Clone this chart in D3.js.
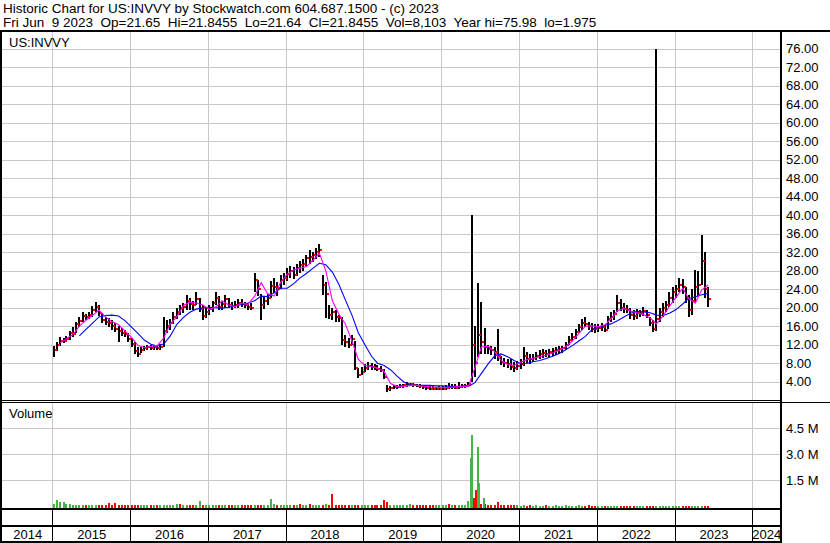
<!DOCTYPE html>
<html><head><meta charset="utf-8">
<script src="https://cdn.jsdelivr.net/npm/d3@7/dist/d3.min.js"></script>
<style>
html,body{margin:0;padding:0;background:#fff;}
svg{display:block;}
text{font-family:"Liberation Sans",Arial,sans-serif;font-size:13px;fill:#000;}
text.hdr{font-size:13.5px;}
</style></head><body>
<svg id="chart" width="830" height="543"></svg>
<script>
// ---------------- DATA ----------------
const headerLine1 = "Historic Chart for US:INVVY by Stockwatch.com 604.687.1500 - (c) 2023";
const headerLine2 = "Fri Jun  9 2023  Op=21.65  Hi=21.8455  Lo=21.64  Cl=21.8455  Vol=8,103  Year hi=75.98  lo=1.975";
const symbolLabel = "US:INVVY";
const volumeLabel = "Volume";
const yearLabels = ["2014","2015","2016","2017","2018","2019","2020","2021","2022","2023","2024"];
const priceTicks = [4,8,12,16,20,24,28,32,36,40,44,48,52,56,60,64,68,72,76];
const volumeTicks = [1.5e6, 3.0e6, 4.5e6];
const volumeTickLabels = ["1.5 M","3.0 M","4.5 M"];

// semi-monthly bars, Jan 2015 .. first half Jun 2023
const high = [
 11.8,12.5,13.6,13.4,13.8,15.0,15.8,17.0,17.9,19.1,18.6,19.0,20.4,21.3,20.5,18.8,18.0,17.8,17.3,16.6,16.0,15.6,15.2,14.6,
 13.5,12.5,11.5,11.4,11.8,11.9,12.0,12.0,11.8,12.2,18.0,17.3,17.6,19.0,20.0,20.6,21.0,22.7,22.0,21.5,23.4,22.0,20.5,20.2,
 20.5,21.5,23.4,22.5,21.5,22.7,22.0,21.2,21.5,21.8,21.8,21.3,21.0,21.0,27.4,26.0,23.0,22.5,23.0,25.8,26.5,25.5,27.0,27.4,
 28.5,29.0,28.8,29.5,30.0,30.5,31.5,32.5,32.0,33.0,33.8,27.0,25.5,20.5,20.0,19.5,18.5,18.0,14.0,13.5,14.0,12.9,7.0,7.2,
 7.8,8.3,8.0,7.8,7.6,7.5,6.8,3.2,3.0,3.2,3.3,3.4,3.6,3.9,3.8,3.7,3.5,3.4,3.2,3.1,3.0,3.0,2.9,3.0,
 3.1,3.2,3.7,3.5,3.4,4.0,3.6,3.5,4.0,40.0,16.0,25.3,21.3,15.6,12.0,11.8,11.5,15.3,9.6,9.2,9.0,8.8,8.2,8.4,
 9.0,11.5,10.4,10.0,10.0,10.5,10.8,11.1,10.8,11.0,11.2,11.5,11.8,11.8,12.5,13.8,14.5,15.5,16.5,17.5,18.0,17.0,16.8,16.5,
 16.5,16.7,16.2,18.2,19.1,19.5,22.7,21.8,21.0,20.5,20.0,19.5,19.8,19.5,20.2,19.6,18.0,17.3,76.0,20.0,21.0,21.5,23.5,24.5,
 25.0,26.4,26.2,24.5,22.7,24.0,28.2,28.0,35.7,32.0,24.5
];
const low = [
 9.4,10.6,11.8,12.3,12.5,13.0,13.6,14.6,15.8,17.0,17.3,17.6,18.0,19.0,18.2,16.6,16.3,15.9,15.2,14.8,12.6,13.9,13.7,12.6,
 11.5,10.0,9.3,10.2,10.6,10.8,10.9,10.8,10.8,10.9,11.5,14.5,15.2,16.5,17.5,18.5,18.8,19.5,19.6,19.6,20.6,19.0,17.3,17.8,
 18.5,19.0,20.5,19.5,19.6,20.0,20.0,19.6,19.9,20.0,20.2,19.9,19.6,19.5,23.5,22.5,17.3,19.8,20.5,22.2,23.2,22.5,24.0,25.0,
 25.8,26.5,26.2,26.8,27.5,28.0,29.0,29.5,29.8,30.5,31.0,22.8,17.7,17.5,17.3,17.0,17.0,11.9,11.5,11.2,12.0,6.5,4.7,5.5,
 6.0,6.5,6.6,6.5,6.3,6.1,4.5,1.7,2.0,2.4,2.5,2.6,2.7,2.9,3.0,2.9,2.8,2.6,2.4,2.3,2.2,2.1,2.1,2.2,
 2.2,2.3,2.4,2.5,2.4,2.5,2.7,2.7,2.8,4.0,5.0,9.3,10.0,10.0,10.0,9.8,9.0,8.5,7.6,7.2,7.0,6.6,6.2,6.5,
 6.8,7.5,8.0,7.9,8.2,8.6,9.0,9.2,9.4,9.4,9.6,9.8,10.0,10.2,10.8,12.0,12.8,13.2,14.5,15.2,15.8,15.2,14.8,14.6,
 14.8,14.9,14.8,15.5,17.0,17.3,19.0,19.2,18.9,18.8,17.5,17.3,17.6,18.0,18.2,17.8,16.0,14.8,15.0,17.0,18.0,19.0,20.2,21.0,
 22.0,23.5,23.0,21.0,18.0,18.5,21.0,22.5,25.0,22.0,20.2
];
const close = [
 10.8,12.0,12.8,12.7,13.2,14.6,14.4,16.5,17.2,18.2,18.0,18.4,19.5,20.2,18.8,17.4,17.0,16.8,16.0,15.3,15.0,14.6,14.3,13.2,
 12.2,10.6,10.0,10.9,11.2,11.4,11.3,11.6,11.3,11.6,15.0,16.0,16.8,18.0,19.0,20.0,20.2,21.5,20.8,20.5,21.8,19.8,18.3,19.0,
 19.8,21.0,22.0,20.2,20.8,21.8,20.5,20.3,20.6,21.0,20.9,20.5,20.2,20.0,26.0,24.0,20.5,21.5,22.0,24.8,24.5,24.2,26.0,26.5,
 27.2,28.0,27.0,28.5,29.2,29.5,30.8,31.0,31.5,32.0,32.5,25.0,23.0,18.5,19.0,18.0,17.8,13.0,12.5,12.0,13.2,7.0,5.5,6.2,
 7.0,7.5,7.2,7.0,6.8,6.6,5.0,2.4,2.6,2.8,2.9,3.0,3.2,3.5,3.4,3.3,3.1,3.0,2.8,2.6,2.5,2.4,2.4,2.5,
 2.5,2.6,2.8,2.9,2.7,2.9,3.0,3.1,3.4,12.0,8.0,14.0,12.5,11.5,11.0,10.8,10.5,9.5,8.3,8.0,7.8,7.2,7.0,7.5,
 7.8,9.5,9.0,8.8,9.2,9.6,10.0,10.2,10.0,10.4,10.6,10.8,11.0,11.2,12.0,13.0,13.6,14.8,15.8,16.6,16.5,16.0,15.5,15.4,
 15.6,15.8,15.2,17.5,18.0,18.6,21.0,20.0,19.8,19.5,18.5,18.2,18.8,18.8,19.2,18.4,16.8,15.5,17.5,19.0,20.0,20.5,22.0,23.5,
 24.0,25.0,24.5,22.0,19.5,21.5,24.5,25.0,30.0,24.0,21.85
];
// volume (thousands of shares) per semi-monthly bar
const volumeK = [
 150,390,230,260,150,120,90,80,70,60,60,70,50,60,60,50,60,190,70,190,60,50,60,50,
 60,50,60,50,60,50,60,50,60,60,70,60,60,70,150,150,60,50,60,50,60,300,60,50,
 50,60,50,60,50,60,50,60,50,60,50,60,50,60,80,60,50,60,60,420,150,60,50,60,
 60,70,60,60,150,60,70,150,60,70,60,60,150,60,720,60,70,60,80,60,70,60,90,60,
 60,50,60,50,60,50,340,220,60,50,60,50,50,60,120,50,50,60,50,50,60,50,50,60,
 50,60,120,60,50,60,60,70,300,300,400,250,150,150,70,60,80,250,60,50,60,50,60,50,
 40,80,40,50,40,50,40,40,50,40,40,50,40,40,50,40,40,40,50,40,40,50,40,40,
 30,30,40,30,40,30,30,40,30,30,40,30,30,30,30,40,30,30,40,30,30,30,40,30,
 30,30,30,40,30,30,40,30,30,30,30
];
// bars whose volume colour differs from the close-to-close direction
const volumeGreenIdx = [3,6,45,68,84,110];
const volumeRedIdx = [39,76,79,86,122];
// individual heavy-volume sessions (2020)
const spikeDates = ["2020-05-16","2020-05-22","2020-05-30","2020-06-10","2020-06-15","2020-06-22","2020-07-16"];
const spikeVolumeK = [2790,4110,480,940,3440,1330,480];
const spikeUp = [true,true,false,false,true,true,true];

// moving averages, monthly samples (null = not yet defined)
const maShort = [
 null,12.4,13.3,14.2,16.0,17.3,18.3,19.5,18.0,17.0,16.3,15.0,
 13.6,11.8,11.4,11.6,11.8,13.5,16.5,18.0,20.5,21.2,21.0,20.6,
 19.6,20.2,21.5,20.6,20.2,21.0,20.7,22.5,25.4,23.0,22.5,25.5,
 27.2,28.2,28.5,28.9,30.2,31.8,28.0,21.5,18.6,16.5,12.8,8.8,
 7.5,7.3,6.9,6.2,3.6,3.0,3.0,3.2,3.2,3.0,2.9,2.8,
 2.7,2.8,2.9,3.0,3.0,7.1,11.5,11.7,10.5,8.6,7.7,7.5,
 8.2,8.8,9.1,9.4,9.7,10.2,10.8,11.6,12.8,14.4,16.0,16.1,
 15.9,16.3,17.6,19.4,19.8,19.3,18.9,18.5,17.8,16.5,18.2,20.3,
 22.3,24.2,22.0,21.0,23.8,24.9
];
const maLong = [
 null,null,null,null,13.9,15.3,16.6,18.0,18.3,18.4,18.2,17.2,
 15.8,14.4,13.0,12.1,11.7,12.2,13.9,16.4,17.9,19.0,19.7,20.0,
 20.1,20.0,19.9,20.1,20.4,20.7,21.0,21.5,22.5,22.4,23.2,24.2,
 24.2,25.2,26.4,27.4,28.5,29.6,29.3,27.7,25.0,21.7,18.4,14.6,
 12.0,9.5,8.0,7.5,6.6,5.2,4.0,3.3,3.2,3.2,3.2,3.1,
 3.1,3.0,3.0,3.0,3.0,3.8,5.8,7.8,9.6,10.0,9.4,8.6,
 7.9,8.0,8.3,8.6,9.0,9.5,10.1,10.9,11.8,12.8,13.8,15.2,
 15.8,16.2,16.5,17.2,18.0,18.8,19.2,19.1,18.9,18.4,18.3,18.8,
 19.6,20.8,22.0,22.3,22.8,23.1
];

// ---------------- CHART ----------------
const svg = d3.select("#chart");
const plotL = 0, plotR = 781;
const priceTop = 32, priceBot = 401;
const volTop = 403, volBot = 509;

function periodDate(p){ return new Date(2015 + Math.floor(p/24), Math.floor((p%24)/2), (p%2) ? 23 : 8); }

const x = d3.scaleTime().domain([new Date(2015,0,1), new Date(2024,0,1)]).range([52.3, 752.3]);
const yP = d3.scaleLinear().domain([0,76]).range([400.2, 48.7]);
const yV = d3.scaleLinear().domain([0,4.5e6]).range([506.3, 428.3]);
const gridColor = "#c8c8c8";
const yearBounds = d3.range(2015, 2025).map(y => new Date(y,0,1));

// gridlines
const grid = svg.append("g").attr("shape-rendering","crispEdges");
grid.selectAll(".hp").data(priceTicks).join("line")
  .attr("x1", plotL).attr("x2", plotR)
  .attr("y1", d => Math.round(yP(d))+0.5).attr("y2", d => Math.round(yP(d))+0.5)
  .attr("stroke", gridColor);
grid.selectAll(".hv").data(volumeTicks).join("line")
  .attr("x1", plotL).attr("x2", plotR)
  .attr("y1", d => Math.round(yV(d))+0.5).attr("y2", d => Math.round(yV(d))+0.5)
  .attr("stroke", gridColor);
grid.selectAll(".vp").data(yearBounds).join("line")
  .attr("x1", d => Math.round(x(d))+0.5).attr("x2", d => Math.round(x(d))+0.5)
  .attr("y1", priceTop).attr("y2", priceBot).attr("stroke", gridColor);
grid.selectAll(".vv").data(yearBounds).join("line")
  .attr("x1", d => Math.round(x(d))+0.5).attr("x2", d => Math.round(x(d))+0.5)
  .attr("y1", volTop).attr("y2", volBot).attr("stroke", gridColor);

// price bars
const bars = d3.range(high.length).map(p => {
  let up = p === 0 ? true : close[p] >= close[p-1];
  if (volumeGreenIdx.includes(p)) up = true;
  if (volumeRedIdx.includes(p)) up = false;
  return {d: periodDate(p), h: high[p], l: low[p], c: close[p], v: volumeK[p]*1000, up};
});
const pb = svg.append("g").attr("shape-rendering","crispEdges");
pb.selectAll("rect.hl").data(bars).join("rect")
  .attr("x", d => Math.round(x(d.d)) - 1).attr("width", 2)
  .attr("y", d => Math.round(yP(d.h))).attr("height", d => Math.max(1, Math.round(yP(d.l)) - Math.round(yP(d.h))))
  .attr("fill", "#000");
pb.selectAll("rect.cl").data(bars).join("rect")
  .attr("x", d => Math.round(x(d.d)) + 1).attr("width", 2)
  .attr("y", d => Math.round(yP(d.c)) - 1).attr("height", 2)
  .attr("fill", "#ff0000");

// moving averages (drawn over the bars)
const maDates = maShort.map((d,k) => periodDate(2*k));
const line = d3.line().defined(d => d[1] != null).x(d => x(d[0])).y(d => yP(d[1]));
svg.append("path").datum(maDates.map((d,k) => [d, maLong[k]]))
  .attr("d", line).attr("fill","none").attr("stroke","#0000ff").attr("stroke-width",1.1);
svg.append("path").datum(maDates.map((d,k) => [d, maShort[k]]))
  .attr("d", line).attr("fill","none").attr("stroke","#ff00ff").attr("stroke-width",1.1);

// volume bars
const vb = svg.append("g").attr("shape-rendering","crispEdges");
vb.selectAll("rect").data(bars).join("rect")
  .attr("x", d => Math.round(x(d.d)) - 1).attr("width", 2)
  .attr("y", d => Math.round(yV(d.v))).attr("height", d => 509 - Math.round(yV(d.v)))
  .attr("fill", d => d.up ? "#44b544" : "#ff0000");
const spikes = spikeDates.map((s,i) => ({d: new Date(s+"T00:00:00"), v: spikeVolumeK[i]*1000, up: spikeUp[i]}));
vb.selectAll("rect.sp").data(spikes).join("rect")
  .attr("x", d => Math.round(x(d.d))).attr("width", 2)
  .attr("y", d => Math.round(yV(d.v))).attr("height", d => 509 - Math.round(yV(d.v)))
  .attr("fill", d => d.up ? "#44b544" : "#ff0000");

// frame
const fr = svg.append("g").attr("shape-rendering","crispEdges");
fr.append("rect").attr("x",0).attr("y",30).attr("width",830).attr("height",2).attr("fill","#000");
fr.append("rect").attr("x",0).attr("y",30).attr("width",2).attr("height",513).attr("fill","#000");
fr.append("rect").attr("x",780).attr("y",30).attr("width",2).attr("height",513).attr("fill","#000");
fr.append("rect").attr("x",0).attr("y",400).attr("width",781).attr("height",1).attr("fill","#000");
fr.append("rect").attr("x",0).attr("y",402).attr("width",781).attr("height",1).attr("fill","#000");
fr.append("rect").attr("x",782).attr("y",402).attr("width",48).attr("height",1).attr("fill","#000");
fr.append("rect").attr("x",0).attr("y",508).attr("width",781).attr("height",2).attr("fill","#000");
fr.append("rect").attr("x",0).attr("y",525).attr("width",781).attr("height",2).attr("fill","#000");
fr.append("rect").attr("x",0).attr("y",541).attr("width",781).attr("height",2).attr("fill","#000");
fr.selectAll("line.b1").data(yearBounds).join("line")
  .attr("x1", d => Math.round(x(d))+0.5).attr("x2", d => Math.round(x(d))+0.5)
  .attr("y1", 510).attr("y2", 525).attr("stroke","#000");
fr.selectAll("line.b2").data(yearBounds).join("line")
  .attr("x1", d => Math.round(x(d))+0.5).attr("x2", d => Math.round(x(d))+0.5)
  .attr("y1", 527).attr("y2", 541).attr("stroke","#000");

// texts
svg.append("text").attr("class","hdr").attr("x",3).attr("y",12.5).text(headerLine1);
svg.append("text").attr("class","hdr").attr("x",3).attr("y",26.5).attr("xml:space","preserve").style("white-space","pre").text(headerLine2);
svg.append("text").attr("x",9).attr("y",46.5).text(symbolLabel);
svg.append("text").attr("x",9).attr("y",418).text(volumeLabel);

svg.selectAll("text.pt").data(priceTicks).join("text")
  .attr("x",786).attr("y", d => yP(d) + 4.5).text(d => d3.format(".2f")(d));
svg.selectAll("text.vt").data(volumeTicks).join("text")
  .attr("x",786).attr("y", d => yV(d) + 4.5).text((d,i) => volumeTickLabels[i]);

const cellEdges = [2].concat(yearBounds.map(d => x(d)), [780]);
svg.selectAll("text.yr").data(yearLabels).join("text")
  .attr("x", (d,i) => (cellEdges[i] + cellEdges[i+1]) / 2 + 0.5)
  .attr("y", 539).attr("text-anchor","middle").text(d => d);
</script>
</body></html>
